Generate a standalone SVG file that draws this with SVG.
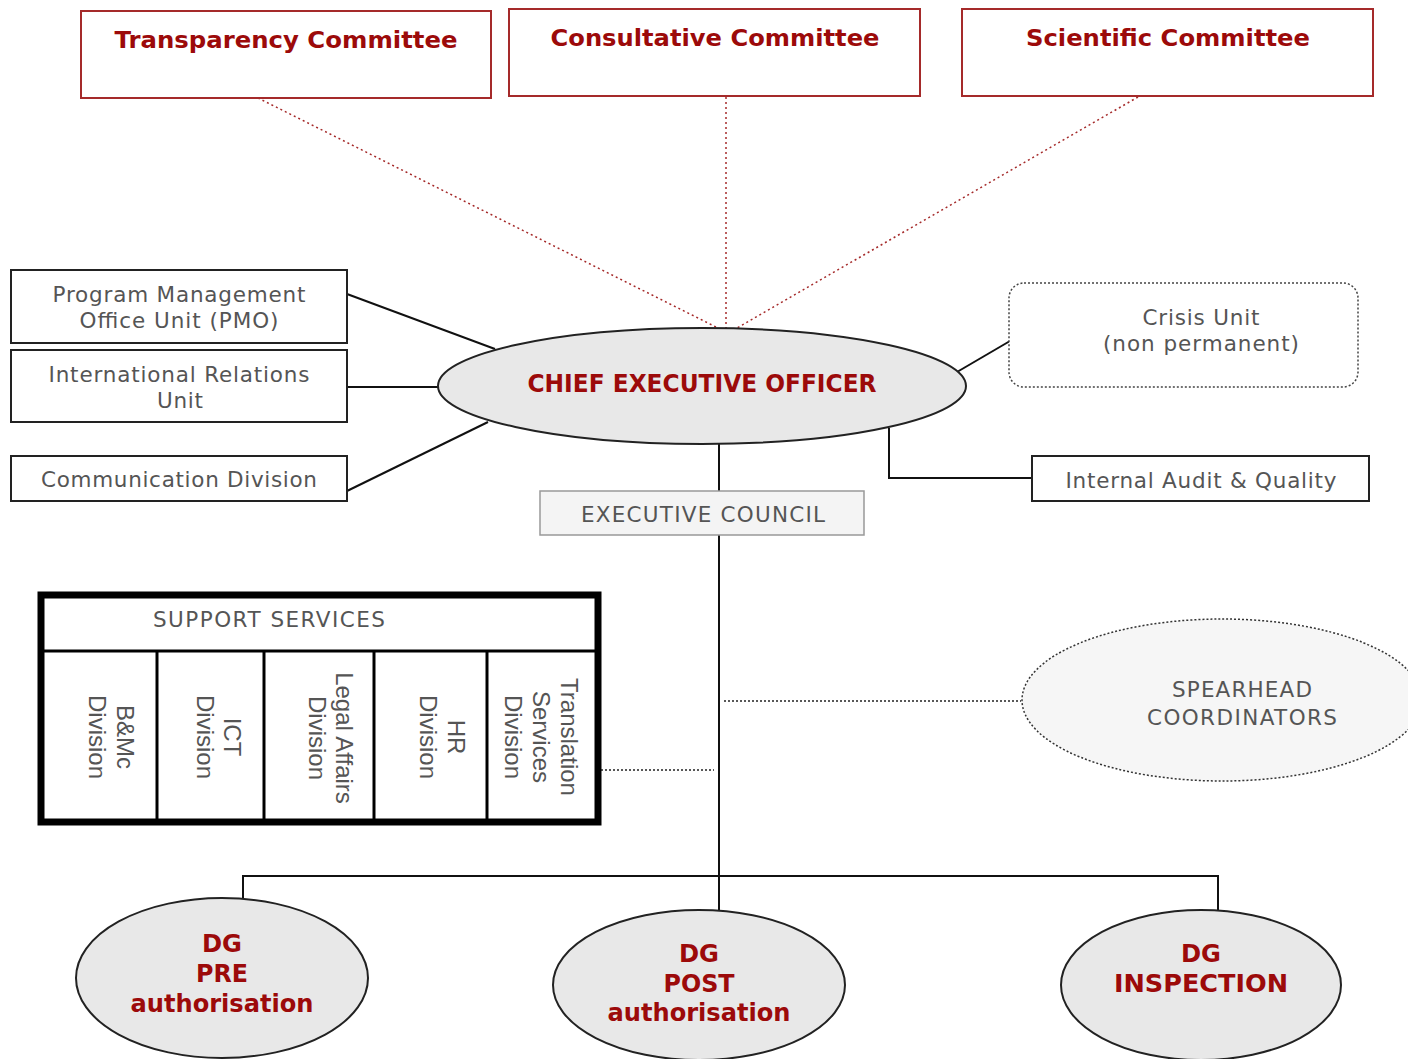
<svg xmlns="http://www.w3.org/2000/svg" width="1408" height="1059" viewBox="0 0 1408 1059">
  <style>
    .committee { fill: #ffffff; stroke: #a52a2a; stroke-width: 2; }
    .ctitle { font-family: "DejaVu Sans", Verdana, sans-serif; font-weight: bold; font-size: 23px; fill: #9c0a0a; text-anchor: middle; }
    .box { fill: #ffffff; stroke: #222; stroke-width: 2; }
    .label { font-family: "DejaVu Sans", Verdana, sans-serif; font-size: 21.5px; fill: #555; text-anchor: middle; }
    .oval { fill: #e8e8e8; stroke: #222; stroke-width: 2; }
    .red { font-family: "DejaVu Sans", Verdana, sans-serif; font-weight: bold; font-size: 24px; fill: #9c0a0a; text-anchor: middle; }
    .line { fill: none; stroke: #111; stroke-width: 2; }
    .reddot { fill: none; stroke: #a52a2a; stroke-width: 1.5; stroke-dasharray: 2 3; }
    .blackdot { fill: none; stroke: #222; stroke-width: 1.5; stroke-dasharray: 2 2; }
    .vert { font-family: "Liberation Sans", Arial, sans-serif; font-size: 24px; fill: #555; text-anchor: middle; }
  </style>

  <!-- connectors -->
  <g id="connectors">
    <line class="reddot" x1="258" y1="98" x2="718" y2="328"/>
    <line class="reddot" x1="726" y1="97" x2="726" y2="328"/>
    <line class="reddot" x1="1138" y1="97" x2="737" y2="328"/>
    <line class="line" x1="347" y1="294" x2="495" y2="349"/>
    <line class="line" x1="347" y1="387" x2="438" y2="387"/>
    <line class="line" x1="347" y1="491" x2="488" y2="422"/>
    <line class="line" x1="957" y1="372" x2="1010" y2="341"/>
    <polyline class="line" points="889,428 889,478 1032,478"/>
    <line class="line" x1="719" y1="444" x2="719" y2="491"/>
    <line class="line" x1="719" y1="535" x2="719" y2="910"/>
    <polyline class="line" points="243,898 243,876 1218,876 1218,910"/>
    <line class="blackdot" x1="601" y1="770" x2="714" y2="770"/>
    <line class="blackdot" x1="724" y1="701" x2="1021" y2="701"/>
  </g>

  <!-- committees -->
  <g id="transparency-committee">
    <rect class="committee" x="81" y="11" width="410" height="87"/>
    <text class="ctitle" x="286" y="48" textLength="343" lengthAdjust="spacingAndGlyphs">Transparency Committee</text>
  </g>
  <g id="consultative-committee">
    <rect class="committee" x="509" y="9" width="411" height="87"/>
    <text class="ctitle" x="715" y="46" textLength="329" lengthAdjust="spacingAndGlyphs">Consultative Committee</text>
  </g>
  <g id="scientific-committee">
    <rect class="committee" x="962" y="9" width="411" height="87"/>
    <text class="ctitle" x="1168" y="46" textLength="284" lengthAdjust="spacingAndGlyphs">Scientific Committee</text>
  </g>

  <!-- chief executive -->
  <g id="ceo">
    <ellipse class="oval" cx="702" cy="386" rx="264" ry="58"/>
    <text class="red" x="702" y="392" font-size="22" textLength="349" lengthAdjust="spacingAndGlyphs">CHIEF EXECUTIVE OFFICER</text>
  </g>

  <!-- staff units -->
  <g id="pmo">
    <rect class="box" x="11" y="270" width="336" height="73"/>
    <text class="label" x="179" y="302" textLength="253">Program Management</text>
    <text class="label" x="179" y="328" textLength="199">Office Unit (PMO)</text>
  </g>
  <g id="international-relations">
    <rect class="box" x="11" y="350" width="336" height="72"/>
    <text class="label" x="179" y="382" textLength="261">International Relations</text>
    <text class="label" x="180" y="408" textLength="46">Unit</text>
  </g>
  <g id="communication">
    <rect class="box" x="11" y="456" width="336" height="45"/>
    <text class="label" x="179" y="487" textLength="276">Communication Division</text>
  </g>
  <g id="crisis-unit">
    <rect x="1009" y="283" width="349" height="104" rx="15" fill="#fff" stroke="#444" stroke-width="1.5" stroke-dasharray="2 2"/>
    <text class="label" x="1201" y="325" textLength="117">Crisis Unit</text>
    <text class="label" x="1201" y="351" textLength="196">(non permanent)</text>
  </g>
  <g id="internal-audit">
    <rect class="box" x="1032" y="456" width="337" height="45"/>
    <text class="label" x="1201" y="488" textLength="271">Internal Audit &amp; Quality</text>
  </g>
  <g id="executive-council">
    <rect x="540" y="491" width="324" height="44" fill="#f4f4f4" stroke="#999" stroke-width="1.5"/>
    <text class="label" x="703" y="522" textLength="244">EXECUTIVE COUNCIL</text>
  </g>

  <!-- support services -->
  <g id="support-services">
    <rect x="41" y="595" width="557" height="227" fill="#fff" stroke="#000" stroke-width="7"/>
    <line x1="44" y1="651" x2="595" y2="651" stroke="#000" stroke-width="3"/>
    <line x1="157" y1="651" x2="157" y2="819" stroke="#000" stroke-width="3"/>
    <line x1="264" y1="651" x2="264" y2="819" stroke="#000" stroke-width="3"/>
    <line x1="374" y1="651" x2="374" y2="819" stroke="#000" stroke-width="3"/>
    <line x1="487" y1="651" x2="487" y2="819" stroke="#000" stroke-width="3"/>
    <text class="label" x="269" y="627" textLength="232">SUPPORT SERVICES</text>
    <text class="vert" transform="translate(117 737) rotate(90)">B&amp;Mc</text>
    <text class="vert" transform="translate(89 737) rotate(90)">Division</text>
    <text class="vert" transform="translate(224 737) rotate(90)">ICT</text>
    <text class="vert" transform="translate(197 737) rotate(90)">Division</text>
    <text class="vert" transform="translate(336 738) rotate(90)">Legal Affairs</text>
    <text class="vert" transform="translate(309 738) rotate(90)">Division</text>
    <text class="vert" transform="translate(448 737) rotate(90)">HR</text>
    <text class="vert" transform="translate(420 737) rotate(90)">Division</text>
    <text class="vert" transform="translate(561 737) rotate(90)">Translation</text>
    <text class="vert" transform="translate(533 737) rotate(90)">Services</text>
    <text class="vert" transform="translate(505 737) rotate(90)">Division</text>
  </g>

  <!-- spearhead coordinators -->
  <g id="spearhead">
    <ellipse cx="1222" cy="700" rx="200" ry="81" fill="#f6f6f6" stroke="#333" stroke-width="1.5" stroke-dasharray="2 2"/>
    <text class="label" x="1242" y="697" textLength="140">SPEARHEAD</text>
    <text class="label" x="1242" y="725" textLength="190">COORDINATORS</text>
  </g>

  <!-- directorates -->
  <g id="dg-pre">
    <ellipse class="oval" cx="222" cy="978" rx="146" ry="80"/>
    <text class="red" x="222" y="952" textLength="40" lengthAdjust="spacingAndGlyphs">DG</text>
    <text class="red" x="222" y="982" textLength="52" lengthAdjust="spacingAndGlyphs">PRE</text>
    <text class="red" x="222" y="1012" textLength="183" lengthAdjust="spacingAndGlyphs">authorisation</text>
  </g>
  <g id="dg-post">
    <ellipse class="oval" cx="699" cy="985" rx="146" ry="75"/>
    <text class="red" x="699" y="962" textLength="40" lengthAdjust="spacingAndGlyphs">DG</text>
    <text class="red" x="699" y="992" textLength="71" lengthAdjust="spacingAndGlyphs">POST</text>
    <text class="red" x="699" y="1021" textLength="183" lengthAdjust="spacingAndGlyphs">authorisation</text>
  </g>
  <g id="dg-inspection">
    <ellipse class="oval" cx="1201" cy="985" rx="140" ry="75"/>
    <text class="red" x="1201" y="962" textLength="40" lengthAdjust="spacingAndGlyphs">DG</text>
    <text class="red" x="1201" y="992" textLength="174" lengthAdjust="spacingAndGlyphs">INSPECTION</text>
  </g>
</svg>
